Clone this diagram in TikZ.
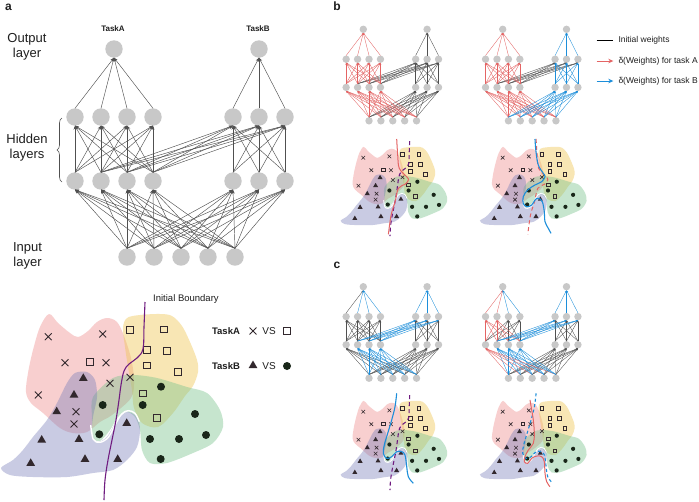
\documentclass[tikz,border=0pt]{standalone}
\usepackage{fontspec}
\setmainfont{Liberation Sans}
\usetikzlibrary{arrows.meta,shapes.geometric,shapes.misc,decorations.pathreplacing}
\definecolor{ngray}{RGB}{200,200,200}
\definecolor{wgray}{RGB}{80,80,80}
\definecolor{wred}{RGB}{228,100,100}
\definecolor{wblue}{RGB}{28,142,218}
\definecolor{bpurple}{RGB}{112,28,128}
\definecolor{pinkc}{RGB}{240,150,150}
\definecolor{yellc}{RGB}{240,200,90}
\definecolor{greenc}{RGB}{120,195,140}
\definecolor{bluec}{RGB}{120,125,185}
\definecolor{mkc}{RGB}{50,40,45}
\definecolor{dotc}{RGB}{25,38,25}
\definecolor{txt}{RGB}{30,30,30}
\def\grayname{wgray}
\newcommand\wire[3]{\edef\ec{#1}\ifx\ec\grayname\def\tp{0}\else\def\tp{1}\fi
  \ifnum\tp=\pass\relax\draw[wire,color=\ec] (#2) -- (#3);\fi}
% network: #1 prefix, #2 x, #3 y, #4 scale, #5 node size, #6 line width, #7 arrow length, #8 arrow width
\newcommand\drawnet[8]{%
\begin{scope}[shift={(#2,#3)},scale=#4,
  wire/.style={line width=#6,-{Stealth[length=#7,width=#8]}}]
  \node[neuron,minimum size=#5] (#1o1) at (0,0) {};
  \node[neuron,minimum size=#5] (#1o2) at (145,0) {};
  \foreach \i/\xx in {1/-39,2/-13,3/13,4/39,5/119,6/145,7/171}{
    \node[neuron,minimum size=#5] (#1h\i) at (\xx,68) {};
    \node[neuron,minimum size=#5] (#1g\i) at (\xx,132) {};}
  \foreach \k/\xx in {1/13,2/40,3/67,4/94,5/121}
    \node[neuron,minimum size=#5] (#1i\k) at (\xx,208) {};
  \foreach \pass in {0,1}{
    \foreach \i in {1,...,4} \wire{\cOA{\i}{1}}{#1h\i.north}{#1o1.south};
    \foreach \i in {5,6,7} \wire{\cOB{\i}{2}}{#1h\i.north}{#1o2.south};
    \foreach \i in {1,...,4}{\foreach \j in {1,...,4} \wire{\cAA{\i}{\j}}{#1g\i.north}{#1h\j.south};}
    \foreach \i in {5,6,7}{\foreach \j in {5,6,7} \wire{\cBB{\i}{\j}}{#1g\i.north}{#1h\j.south};}
    \foreach \i in {2,3,4}{\foreach \j in {5,6,7} \wire{\cX{\i}{\j}}{#1g\i.north}{#1h\j.south};}
    \foreach \k in {1,...,5}{\foreach \j in {1,...,4} \wire{\cIA{\k}{\j}}{#1i\k.north}{#1g\j.south};}
    \foreach \k in {1,...,5}{\foreach \j in {5,6,7} \wire{\cIB{\k}{\j}}{#1i\k.north}{#1g\j.south};}
  }
\end{scope}}
% boundaries (panel-a coordinates)
\newcommand\initpath[1]{\draw[#1] plot[smooth,tension=.6] coordinates {(145,302) (144,327) (143,349) (137,358) (129,364) (124,371) (121,385) (119,400) (116,420) (112,440) (108,460) (105,480) (104,500)};}
\newcommand\redApath[1]{\draw[#1] plot[smooth,tension=.6] coordinates {(117.9,297.7) (120,331) (123.3,358.8) (138.8,376.3) (142.3,383.1) (135.4,392) (121.5,400.4) (114.6,428.3) (106.3,456) (100.6,496.2)};}
\newcommand\blueBpath[1]{\draw[#1] plot[smooth,tension=.6] coordinates {(115.6,297.7) (117.7,324.2) (122.5,351.9) (132.9,369.2) (136.5,376.2) (129.6,386.6) (115.6,393.5) (100.4,403.9) (91.2,417.9) (91.2,431.9) (98.3,438.8) (108.8,435.2) (115.6,424.8) (122.5,421.3) (130.8,428.3) (135,449.2) (136.5,470) (143.3,483.8) (149,494.2)};}
\newcommand\blueCpath[1]{\draw[#1] plot[smooth,tension=.6] coordinates {(117.9,298.3) (114.4,326.2) (107.5,353.9) (99.2,381.7) (92.1,406) (90,423.5) (97.1,433.9) (107.5,430.4) (117.9,420) (128.3,420) (135.2,426.9) (138.8,451.2) (142.1,472.1) (152.5,485.8)};}
\newcommand\redCpath[1]{\draw[#1] plot[smooth,tension=.6] coordinates {(105.2,312.1) (108.7,333) (112.1,354) (114.2,381.7) (112.1,402.5) (101.7,416.5) (94.8,430.4) (93.3,440.8) (100.4,444.2) (108.7,433.8) (119.2,429) (129.6,430.4) (135,440.8) (136.5,465) (140,482.5) (146.9,492.9)};}
% scatter: #1 prefix, #2 x, #3 y, #4 scale, #5 marker suffix
\newcommand\myscatter[5]{%
\begin{scope}[shift={(#2,#3)},scale=#4]
  \fill[pinkc,fill opacity=.45] plot[smooth cycle,tension=.55] coordinates {(49,314) (58,323) (70,333) (78,337) (88,331) (97,322) (107,318) (117,322) (124,336) (131,358) (134,380) (131,398) (112,415) (100,422) (87,432) (73,433) (60,428) (43,413) (31,403) (26,392) (28,373) (33,350) (40,327)};
  \fill[yellc,fill opacity=.45] plot[smooth cycle,tension=.55] coordinates {(123,328) (127,318) (140,315) (160,314) (172,316) (182,326) (190,342) (197,360) (198,372) (193,386) (185,396) (173,413) (158,427) (142,423) (134,408) (132,390) (128,367) (125,347)};
  \fill[greenc,fill opacity=.42] plot[smooth cycle,tension=.5] coordinates {(93,397) (113,378) (133,375) (157,378) (187,387) (207,393) (220,410) (223,427) (213,443) (193,453) (167,463) (150,463) (142,450) (140,430) (135,417) (127,412) (118,417) (110,430) (100,441) (93,437) (92,417)};
  \fill[bluec,fill opacity=.4] plot[smooth cycle,tension=.5] coordinates {(1,468) (13,460) (23,450) (33,437) (47,420) (57,403) (67,383) (75,373) (87,372) (95,380) (97,397) (93,417) (92,433) (97,442) (107,437) (117,420) (127,412) (137,417) (140,430) (137,447) (127,460) (113,470) (93,473) (67,477) (33,477) (10,475)};
  \draw[notch#5] plot[smooth,tension=.6] coordinates {(90.7,425) (93.3,439.3) (100,442.3) (108.3,437.3) (115,425) (121.7,414) (128.3,410.7) (135,413.3) (139.3,421.7)};
  \foreach \px/\py [count=\n] in {48.3/336.7,102.7/334,65/362.7,106/362.7,130/377.3,110/383.3,38.3/395,76/411.7,74/424}
    \node[mcross#5] (#1x\n) at (\px,\py) {};
  \foreach \px/\py [count=\n] in {130/330,164/329.3,146.7/350,166.7/350.7,90/362,146.7/365.3,177.7/371.7,142.7/393.3,156.7/417.7}
    \node[msq#5] (#1s\n) at (\px,\py) {};
  \foreach \px/\py [count=\n] in {83.3/378.3,74/395,56.7/411.7,126.7/423.3,41.7/440,79/439.3,30.7/463.3,85/459.3,117.7/459.3}
    \node[mtri#5] (#1t\n) at (\px,\py) {};
  \foreach \px/\py [count=\n] in {161/386.7,102.7/405,142.7/405,195/414,99.3/434.3,150/439,179/439,206/435,160.7/459}
    \node[mdot#5] (#1d\n) at (\px,\py) {};
}
\newcommand\closescatter{\end{scope}}
\begin{document}
\begin{tikzpicture}[x=1pt,y=-1pt,
  every node/.style={text=txt},
  neuron/.style={circle,fill=ngray,draw=none,inner sep=0pt,outer sep=0pt},
  mcrossA/.style={cross out,draw=mkc,line width=0.9pt,minimum size=6pt,inner sep=0pt},
  msqA/.style={rectangle,draw=mkc,line width=0.8pt,minimum size=6.5pt,inner sep=0pt},
  mtriA/.style={regular polygon,regular polygon sides=3,fill=mkc,minimum size=10pt,inner sep=0pt},
  mdotA/.style={circle,fill=dotc,minimum size=8pt,inner sep=0pt},
  mcrossS/.style={cross out,draw=mkc,line width=0.6pt,minimum size=3pt,inner sep=0pt},
  msqS/.style={rectangle,draw=mkc,line width=0.6pt,minimum size=3.6pt,inner sep=0pt},
  mtriS/.style={regular polygon,regular polygon sides=3,fill=mkc,minimum size=5.8pt,inner sep=0pt},
  mdotS/.style={circle,fill=dotc,minimum size=4.2pt,inner sep=0pt},
  notchA/.style={white,line width=1.4pt},
  notchS/.style={white,line width=0.8pt},
  panel/.style={font=\bfseries\fontsize{12}{14}\selectfont,inner sep=0pt},
  lay/.style={font=\fontsize{13}{15}\selectfont,align=center,inner sep=0pt},
  legtxt/.style={font=\fontsize{8.5}{10}\selectfont,anchor=west,inner sep=0pt},
]
\useasboundingbox (0,0) rectangle (699,501);
\fill[white] (0,0) rectangle (699,501);

% panel labels
\node[panel] (pa) at (8.5,7) {a};
\node[panel] (pb) at (337,6) {b};
\node[panel] (pc) at (337,265) {c};

% ---------- panel a network
\def\cOA#1#2{wgray}\def\cOB#1#2{wgray}\def\cAA#1#2{wgray}\def\cBB#1#2{wgray}
\def\cX#1#2{wgray}\def\cIA#1#2{wgray}\def\cIB#1#2{wgray}
\drawnet{A}{114}{49}{1}{17.4pt}{0.45pt}{4pt}{3pt}
\node[font=\bfseries\fontsize{8}{9.6}\selectfont,inner sep=0pt] (ta) at (113,29) {TaskA};
\node[font=\bfseries\fontsize{8}{9.6}\selectfont,inner sep=0pt] (tb) at (258,29) {TaskB};
\node[lay] (outl) at (27,47) {Output\\layer};
\node[lay] (hidl) at (27,147.5) {Hidden\\layers};
\node[lay] (inl) at (27.5,255.5) {Input\\layer};
\draw[wgray,line width=0.6pt,decorate,decoration={brace,amplitude=5pt}] (62,182) -- (62,118);

% ---------- panel a scatter
\myscatter{SA}{0}{0}{1}{A}
  \initpath{bpurple,line width=1.1pt}
\closescatter
\node[font=\fontsize{9.5}{11}\selectfont,anchor=west,inner sep=0pt] (ib) at (153,299) {Initial Boundary};
\node[font=\bfseries\fontsize{9.5}{11}\selectfont,inner sep=0pt] (lga) at (226,331) {TaskA};
\node[mcrossA] (lgx) at (253,331) {};
\node[font=\fontsize{10}{12}\selectfont,inner sep=0pt] (lgv1) at (269,331) {VS};
\node[msqA] (lgs) at (287,331) {};
\node[font=\bfseries\fontsize{9.5}{11}\selectfont,inner sep=0pt] (lgb) at (226,366) {TaskB};
\node[mtriA] (lgt) at (253,365.5) {};
\node[font=\fontsize{10}{12}\selectfont,inner sep=0pt] (lgv2) at (269,366) {VS};
\node[mdotA] (lgd) at (287,366) {};

% ---------- panel b networks
\def\cOA#1#2{wred}\def\cOB#1#2{wgray}\def\cAA#1#2{wred}\def\cBB#1#2{wgray}
\def\cX#1#2{wgray}\def\cIA#1#2{wred}\def\cIB#1#2{wgray}
\drawnet{Ba}{363.3}{29.3}{0.44}{7.4pt}{0.35pt}{2pt}{1.6pt}
\def\cOA#1#2{wred}\def\cOB#1#2{wblue}\def\cAA#1#2{wred}\def\cBB#1#2{wblue}
\def\cX#1#2{wgray}\def\cIA#1#2{wred}\def\cIB#1#2{wblue}
\drawnet{Bb}{502.7}{29.3}{0.44}{7.4pt}{0.35pt}{2pt}{1.6pt}

% legend
\coordinate (k1s) at (596.7,40); \coordinate (k1e) at (613.3,40);
\coordinate (k2s) at (596.7,61); \coordinate (k2e) at (613.3,61);
\coordinate (k3s) at (596.7,81); \coordinate (k3e) at (613.3,81);
\draw[black,line width=0.9pt] (k1s) -- (k1e);
\draw[wred,line width=0.9pt,-{Stealth[length=5pt,width=4.5pt]}] (k2s) -- (k2e);
\draw[wblue,line width=0.9pt,-{Stealth[length=5pt,width=4.5pt]}] (k3s) -- (k3e);
\node[legtxt] (kt1) at (618.3,40) {Initial weights};
\node[legtxt] (kt2) at (618.3,61) {δ(Weights) for task A};
\node[legtxt] (kt3) at (618.3,81) {δ(Weights) for task B};

% ---------- panel b scatters
\myscatter{SBa}{340.1}{-3.9}{0.48}{S}
  \initpath{bpurple,line width=1.1pt,dash pattern=on 4pt off 3pt}
  \redApath{wred,line width=1pt}
\closescatter
\myscatter{SBb}{479.5}{-3.9}{0.48}{S}
  \redApath{wred,line width=1pt,dash pattern=on 4pt off 3pt}
  \blueBpath{wblue,line width=1.1pt}
\closescatter

% ---------- panel c networks
\def\cOA#1#2{\ifnum#1=1 wgray\else wblue\fi}\def\cOB#1#2{wblue}\def\cAA#1#2{wgray}\def\cBB#1#2{wgray}
\def\cX#1#2{wblue}\def\cIA#1#2{\ifnum#2=1 wgray\else wblue\fi}\def\cIB#1#2{wgray}
\drawnet{Ca}{363.3}{286.7}{0.44}{7.4pt}{0.35pt}{2pt}{1.6pt}
\def\cOA#1#2{\ifnum#1<3 wred\else wblue\fi}\def\cOB#1#2{wblue}\def\cAA#1#2{\ifnum#2<3 wred\else wgray\fi}\def\cBB#1#2{wgray}
\def\cX#1#2{wblue}\def\cIA#1#2{\ifnum#2=1 wred\else wblue\fi}\def\cIB#1#2{wgray}
\drawnet{Cb}{502.7}{286.7}{0.44}{7.4pt}{0.35pt}{2pt}{1.6pt}

% ---------- panel c scatters
\myscatter{SCa}{340.1}{250.1}{0.48}{S}
  \initpath{bpurple,line width=1.1pt,dash pattern=on 4pt off 3pt}
  \blueCpath{wblue,line width=1.1pt}
\closescatter
\myscatter{SCb}{479.5}{250.1}{0.48}{S}
  \blueCpath{wblue,line width=1.1pt,dash pattern=on 3pt off 2.5pt}
  \redCpath{wred,line width=1pt}
\closescatter
\end{tikzpicture}
\end{document}
